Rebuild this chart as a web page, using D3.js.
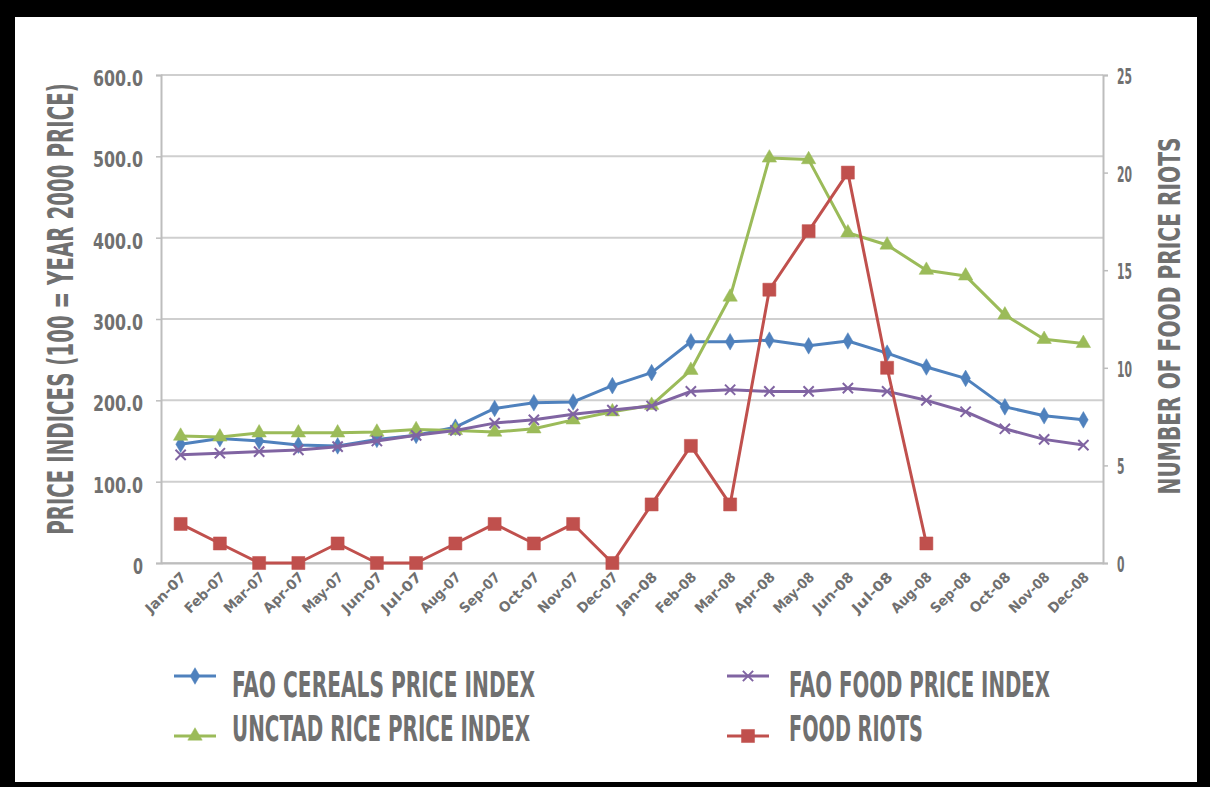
<!DOCTYPE html>
<html><head><meta charset="utf-8">
<script src="https://cdn.jsdelivr.net/npm/d3@7"></script>
<style>body{margin:0;background:#fff}svg{display:block}</style>
</head><body><svg id="c" width="1210" height="787"></svg>
<script>
const months = ["Jan-07","Feb-07","Mar-07","Apr-07","May-07","Jun-07","Jul-07","Aug-07","Sep-07","Oct-07","Nov-07","Dec-07",
"Jan-08","Feb-08","Mar-08","Apr-08","May-08","Jun-08","Jul-08","Aug-08","Sep-08","Oct-08","Nov-08","Dec-08"];
const faoCereals = [146,153,150,145,144,152,157,167,190,197,198,218,234,272,272,274,267,273,258,241,227,192,181,176];
const unctadRice = [156,155,160,160,160,161,164,163,161,165,176,186,194,237,327,498,496,406,391,360,353,305,275,270];
const faoFood = [133,135,137,139,143,150,157,163,172,176,183,188,193,211,213,211,211,215,211,200,186,165,152,145];
const foodRiots = [2,1,0,0,1,0,0,1,2,1,2,0,3,6,3,14,17,20,10,1];
const leftTicks = [0,100,200,300,400,500,600];
const rightTicks = [0,5,10,15,20,25];
const leftTitle = "PRICE INDICES (100 = YEAR 2000 PRICE)";
const rightTitle = "NUMBER OF FOOD PRICE RIOTS";

const svg = d3.select("#c");
const F = "'DejaVu Sans Condensed','DejaVu Sans',sans-serif";
const TXT = "#707070";

// frame
svg.append("rect").attr("width",1210).attr("height",787).attr("fill","#000");
svg.append("rect").attr("x",15).attr("y",17).attr("width",1182).attr("height",765).attr("fill","#fff");

const x = d3.scalePoint().domain(months).range([161,1103]).padding(0.5);
const yL = d3.scaleLinear().domain([0,600]).range([563,75]);
const yR = d3.scaleLinear().domain([0,25]).range([563,75]);

// gridlines
svg.append("g").selectAll("line").data(leftTicks).join("line")
  .attr("x1",161).attr("x2",1103).attr("y1",d=>yL(d)).attr("y2",d=>yL(d))
  .attr("stroke","#cfcfcf").attr("stroke-width",2);

// axes
const gL = svg.append("g").attr("transform","translate(161,0)")
  .call(d3.axisLeft(yL).tickValues(leftTicks).tickSize(5).tickPadding(13).tickFormat(d=>d===0?"0":d3.format(".1f")(d)));
const gR = svg.append("g").attr("transform","translate(1103,0)")
  .call(d3.axisRight(yR).tickValues(rightTicks).tickSize(5).tickPadding(9));
const gB = svg.append("g").attr("transform","translate(0,563)")
  .call(d3.axisBottom(x).tickSize(0).tickPadding(0));
[gL,gR,gB].forEach(g=>{
  g.select(".domain").attr("stroke","#bdbdbd").attr("stroke-width",2);
  g.selectAll(".tick line").attr("stroke","#bdbdbd").attr("stroke-width",1.5);
  g.selectAll("text").attr("fill",TXT).attr("font-family",F).attr("font-weight","bold");
});
gL.selectAll("text").attr("font-size",21).attr("dy","0.5em")
  .attr("textLength",d=>d===0?10:50).attr("lengthAdjust","spacingAndGlyphs");
gR.selectAll("text").attr("font-size",21).attr("dy","0.4em")
  .attr("textLength",d=>String(d).length*7.5).attr("lengthAdjust","spacingAndGlyphs");
gB.selectAll("text").attr("font-size",14).attr("text-anchor","end")
  .attr("transform","translate(6,15) rotate(-45)").attr("dy","0")
  .attr("textLength",51).attr("lengthAdjust","spacingAndGlyphs");

// axis titles (compressed with a scale so the box stays true)
function title(str, cx, cy, size, len){
  const t = svg.append("text").attr("text-anchor","middle").attr("font-family",F)
    .attr("font-weight","bold").attr("font-size",size).attr("fill",TXT).text(str);
  const w = t.node().getComputedTextLength();
  t.attr("transform",`translate(${cx},${cy}) rotate(-90) scale(${len/w},1)`);
}
title(leftTitle, 73, 309, 36, 452);
title(rightTitle, 1180, 316, 30, 357);

const series = [
  {name:"FAO CEREALS PRICE INDEX", vals:faoCereals, y:yL, color:"#4f81bd", sym:d3.symbolDiamond, size:80, stroke:false},
  {name:"UNCTAD RICE PRICE INDEX", vals:unctadRice, y:yL, color:"#9bbb59", sym:d3.symbolTriangle, size:90, stroke:false},
  {name:"FAO FOOD PRICE INDEX", vals:faoFood, y:yL, color:"#8064a2", sym:d3.symbolX, size:70, stroke:true},
  {name:"FOOD RIOTS", vals:foodRiots, y:yR, color:"#c0504d", sym:d3.symbolSquare, size:170, stroke:false}
];
const plot = svg.append("g");
series.forEach(s=>{
  const pts = s.vals.map((v,i)=>[x(months[i]), s.y(v)]);
  plot.append("path").attr("d",d3.line()(pts)).attr("fill","none")
    .attr("stroke",s.color).attr("stroke-width",3).attr("stroke-linejoin","round");
  plot.append("g").selectAll("path").data(pts).join("path")
    .attr("transform",d=>`translate(${d[0]},${d[1]})`)
    .attr("d",d3.symbol().type(s.sym).size(s.size))
    .attr("fill",s.stroke?"none":s.color).attr("stroke",s.color).attr("stroke-width",s.stroke?2:0.5);
});

// legend
const leg = [
  {s:series[0], lx:174, ly:676, tx:232, ty:697, tl:303},
  {s:series[1], lx:174, ly:736, tx:232, ty:741, tl:298},
  {s:series[2], lx:727, ly:676, tx:789, ty:697, tl:261},
  {s:series[3], lx:727, ly:736, tx:789, ty:741, tl:134}
];
const lg = svg.append("g");
leg.forEach(l=>{
  lg.append("line").attr("x1",l.lx).attr("x2",l.lx+42).attr("y1",l.ly).attr("y2",l.ly)
    .attr("stroke",l.s.color).attr("stroke-width",3);
  lg.append("path").attr("transform",`translate(${l.lx+21},${l.ly})`)
    .attr("d",d3.symbol().type(l.s.sym).size(l.s.size))
    .attr("fill",l.s.stroke?"none":l.s.color).attr("stroke",l.s.color).attr("stroke-width",l.s.stroke?2:0.5);
  lg.append("text").attr("x",l.tx).attr("y",l.ty).attr("font-family",F).attr("font-weight","bold")
    .attr("font-size",35).attr("fill",TXT)
    .attr("textLength",l.tl).attr("lengthAdjust","spacingAndGlyphs").text(l.s.name);
});
</script></body></html>
